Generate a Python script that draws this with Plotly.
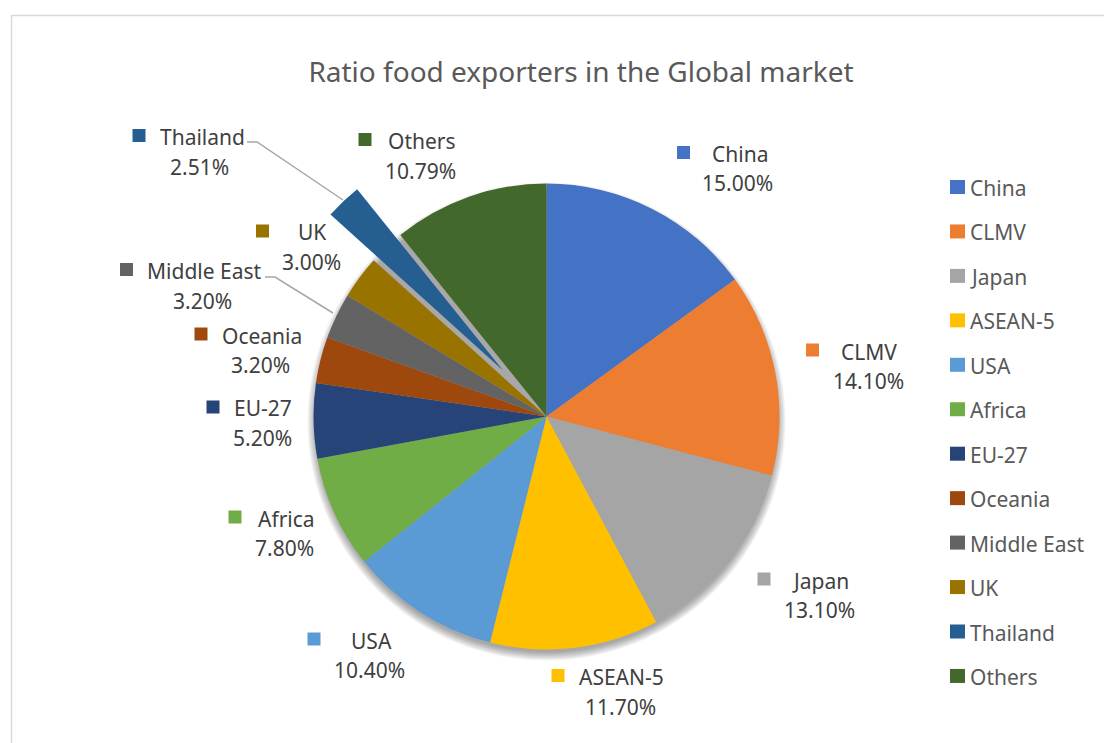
import plotly.graph_objects as go

# ---- data -------------------------------------------------------------
regions = ["China", "CLMV", "Japan", "ASEAN-5", "USA", "Africa", "EU-27",
           "Oceania", "Middle East", "UK", "Thailand", "Others"]
shares = [15.00, 14.10, 13.10, 11.70, 10.40, 7.80, 5.20, 3.20, 3.20, 3.00, 2.51, 10.79]
colors = ["#4472C4", "#ED7D31", "#A5A5A5", "#FFC000", "#5B9BD5", "#70AD47",
          "#264478", "#9E480E", "#636363", "#997300", "#255E91", "#43682B"]
title_text = "Ratio food exporters in the Global market"
exploded = "Thailand"

# ---- layout helpers (pixel -> paper) -----------------------------------
W, H = 1104, 743
def px(x):
    return x / W
def py(y):
    return 1 - y / H

CX, CY, R = 546.5, 416.5, 233.0   # pie centre and radius in pixels
PULL = 0.27

FONT = "Noto Sans"
LABEL_COLOR = "#404040"
LEGEND_COLOR = "#595959"

# label placement: key square centre (x, y), name left edge, percentage centre x
label_place = {
    "China":       (683.5, 152.5, 711, 737.5),
    "CLMV":        (812.5, 350.0, 840, 868.0),
    "Japan":       (764.0, 579.0, 791, 819.5),
    "ASEAN-5":     (558.0, 675.5, 578, 620.0),
    "USA":         (314.0, 639.0, 350, 369.0),
    "Africa":      (235.0, 517.0, 257, 284.0),
    "EU-27":       (213.0, 407.0, 233, 262.5),
    "Oceania":     (201.0, 334.0, 221, 260.0),
    "Middle East": (126.5, 269.5, 146, 202.0),
    "UK":          (262.5, 231.0, 297, 311.0),
    "Thailand":    (139.0, 135.5, 159, 199.5),
    "Others":      (365.0, 139.5, 387, 420.0),
}

fig = go.Figure()

# soft drop shadow beneath the pie
for k in range(9):
    rr = R - 2 + k
    sy = CY + 5
    fig.add_trace(go.Pie(
        values=[1], labels=["shadow"], sort=False,
        marker=dict(colors=["rgba(0,0,0,0.045)"], line=dict(width=0)),
        textinfo="none", hoverinfo="skip", showlegend=False,
        domain=dict(x=[px(CX - rr), px(CX + rr)], y=[py(sy + rr), py(sy - rr)]),
    ))

# main pie
half = R * (1 + PULL)
fig.add_trace(go.Pie(
    labels=regions, values=shares, sort=False, direction="clockwise", rotation=0,
    marker=dict(colors=colors, line=dict(width=0)),
    pull=[PULL if r == exploded else 0 for r in regions],
    textinfo="none", showlegend=False,
    domain=dict(x=[px(CX - half), px(CX + half)], y=[py(CY + half), py(CY - half)]),
))

shapes = []
annotations = []

# data labels with colour keys
for name, val, col in zip(regions, shares, colors):
    sx, sy, nx, pcx = label_place[name]
    shapes.append(dict(type="rect", xref="paper", yref="paper",
                       x0=px(sx - 6.5), x1=px(sx + 6.5), y0=py(sy + 6.5), y1=py(sy - 6.5),
                       line=dict(width=0), fillcolor=col))
    annotations.append(dict(text=name, x=px(nx - 1), y=py(sy + 1.5), xref="paper", yref="paper",
                            xanchor="left", yanchor="middle", showarrow=False,
                            font=dict(family=FONT, size=21, color=LABEL_COLOR)))
    annotations.append(dict(text=f"{val:.2f}%", x=px(pcx), y=py(sy + 31), xref="paper", yref="paper",
                            xanchor="center", yanchor="middle", showarrow=False,
                            font=dict(family=FONT, size=21, color=LABEL_COLOR)))

# leader lines for the crowded labels
def leader(points):
    d = "M " + " L ".join(f"{px(x)},{py(y)}" for x, y in points)
    return dict(type="path", xref="paper", yref="paper", path=d,
                line=dict(color="#A6A6A6", width=1.5))
shapes.append(leader([(247, 142), (257, 142), (343, 200)]))
shapes.append(leader([(265, 277), (275, 277), (333, 313)]))

# legend column
for i, (name, col) in enumerate(zip(regions, colors)):
    ly = 187 + i * 44.45
    shapes.append(dict(type="rect", xref="paper", yref="paper",
                       x0=px(950), x1=px(965), y0=py(ly + 7), y1=py(ly - 7),
                       line=dict(width=0), fillcolor=col))
    annotations.append(dict(text=name, x=px(968), y=py(ly + 1), xref="paper", yref="paper",
                            xanchor="left", yanchor="middle", showarrow=False,
                            font=dict(family=FONT, size=21, color=LEGEND_COLOR)))

# chart area border
shapes.append(dict(type="rect", xref="paper", yref="paper",
                   x0=px(11.5), x1=px(1115), y0=py(760), y1=py(15.5),
                   line=dict(color="#D9D9D9", width=1.5), fillcolor="rgba(0,0,0,0)"))

fig.update_layout(
    width=W, height=H,
    margin=dict(l=0, r=0, t=0, b=0),
    paper_bgcolor="white", plot_bgcolor="white",
    title=dict(text=title_text, x=px(581), y=py(72), xanchor="center", yanchor="middle",
               xref="paper", yref="paper",
               font=dict(family=FONT, size=28, color=LEGEND_COLOR)),
    shapes=shapes, annotations=annotations,
    showlegend=False,
)

fig.write_html("out.html")
